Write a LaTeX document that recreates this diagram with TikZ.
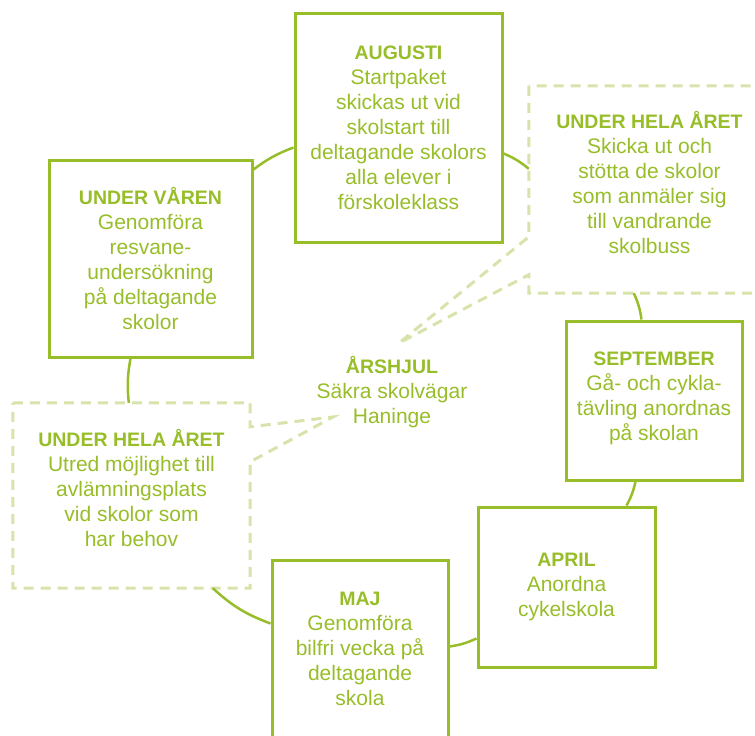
\documentclass[tikz,border=0pt]{standalone}
\usepackage{fontspec}
\setmainfont{Liberation Sans}
\usepackage{tikz}
\usetikzlibrary{positioning,calc}
\definecolor{cWheel}{RGB}{151,189,41}
\definecolor{cAllYear}{RGB}{214,227,170}
\newcommand{\Mhead}[1]{{\fontsize{19.5}{25}\selectfont\bfseries #1}}

\begin{document}
\begin{tikzpicture}[x=1pt,y=-1pt,
   month/.style={draw=cWheel,line width=3pt,inner sep=0pt,align=center,text=cWheel,font=\fontsize{21}{25}\selectfont},
   yearlong/.style={inner sep=0pt,align=center,text=cWheel,font=\fontsize{21}{25}\selectfont},
   bubble/.style={draw=cAllYear,line width=3pt,dash pattern=on 10pt off 7pt},
   link/.style={draw=cWheel,line width=2.5pt,bend left=8}]
  \useasboundingbox (0,0) rectangle (755,736);
  % Months
  \node[month,minimum width=207pt,minimum height=229pt] (augusti) at (398.5,127.5)
    {\Mhead{AUGUSTI}\\Startpaket\\skickas ut vid\\skolstart till\\deltagande skolors\\alla elever i\\förskoleklass};
  \node[month,minimum width=203pt,minimum height=197pt] (varen) at (150.5,258.5)
    {\Mhead{UNDER VÅREN}\\Genomföra\\resvane-\\undersökning\\på deltagande\\skolor};
  \node[month,minimum width=176pt,minimum height=159pt,text depth=9pt] (september) at (654,400.5)
    {\Mhead{SEPTEMBER}\\Gå- och cykla-\\tävling anordnas\\på skolan};
  \node[month,minimum width=177pt,minimum height=160pt] (april) at (566.5,587)
    {\Mhead{APRIL}\\Anordna\\cykelskola};
  \node[month,minimum width=176pt,minimum height=178pt] (maj) at (360,649)
    {\Mhead{MAJ}\\Genomföra\\bilfri vecka på\\deltagande\\skola};
  % Whole year
  \node[yearlong,minimum width=241pt,minimum height=207pt,text depth=15pt] (helaA) at (649.5,189.5)
    {\Mhead{UNDER HELA ÅRET}\\Skicka ut och\\stötta de skolor\\som anmäler sig\\till vandrande\\skolbuss};
  \node[yearlong,minimum width=237pt,minimum height=185pt,text depth=15pt] (helaB) at (131.5,495.5)
    {\Mhead{UNDER HELA ÅRET}\\Utred möjlighet till\\avlämningsplats\\vid skolor som\\har behov};
  \node[yearlong] (hjul) at (392,392) {\Mhead{ÅRSHJUL}\\Säkra skolvägar\\Haninge};
  \coordinate (tipA) at (399,343);
  \coordinate (tipB) at (333,417);
  \draw[bubble] (helaA.north west) -- ($(helaA.north west)+(0,151)$) -- (tipA)
    -- ($(helaA.north west)+(0,189)$) -- (helaA.south west) -- (helaA.south east)
    -- (helaA.north east) -- cycle;
  \draw[bubble] (helaB.north west) -- (helaB.north east) -- ($(helaB.north east)+(0,24)$)
    -- (tipB) -- ($(helaB.north east)+(0,59)$) -- (helaB.south east)
    -- (helaB.south west) -- cycle;
  % Wheel
  \draw[link] ($(varen.north east)+(0,11)$) to ($(augusti.north west)+(0,136)$);
  \draw[link] ($(augusti.north east)+(0,142)$) to ($(helaA.north west)+(0,83)$);
  \draw[link] ($(helaA.south west)+(105,0)$) to ($(september.north west)+(77,0)$);
  \draw[link] ($(september.south west)+(71,0)$) to ($(april.north west)+(150,0)$);
  \draw[link] ($(april.north west)+(0,133)$) to ($(maj.north east)+(0,88)$);
  \draw[link,bend left=11] ($(maj.north west)+(0,65)$) to ($(helaB.south west)+(200,0)$);
  \draw[link] ($(helaB.north west)+(116,0)$) to ($(varen.south west)+(83,0)$);
\end{tikzpicture}
\end{document}
